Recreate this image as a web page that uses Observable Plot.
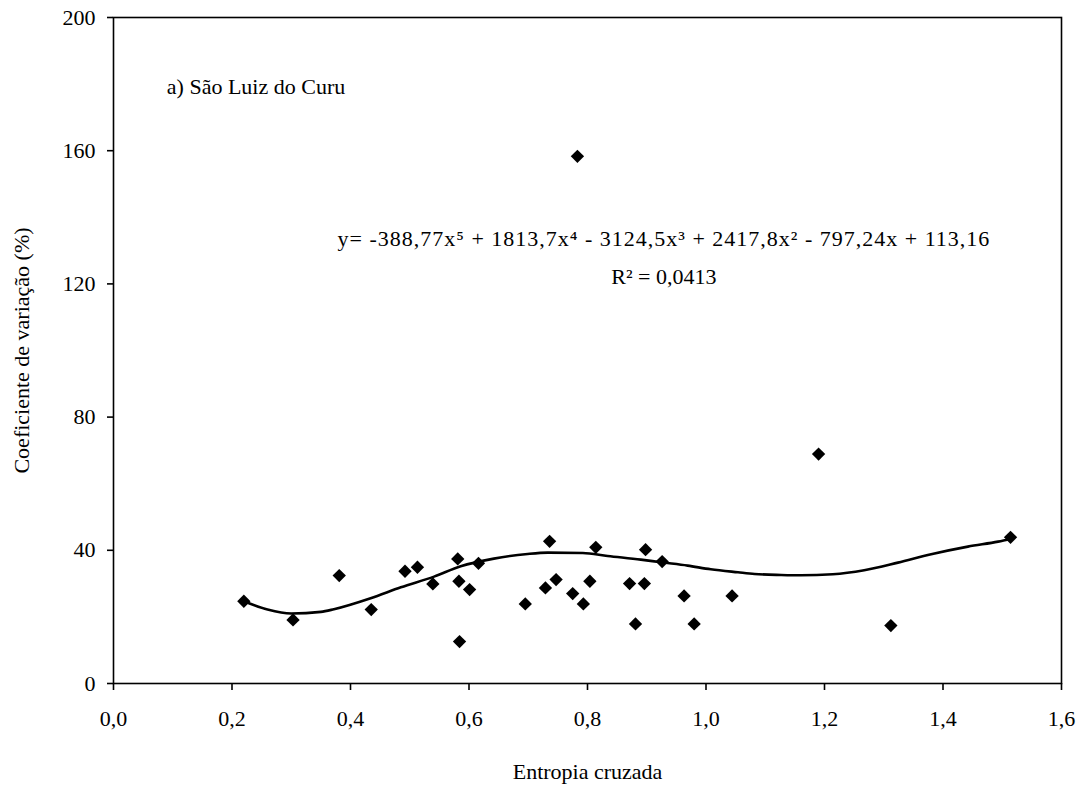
<!DOCTYPE html>
<html>
<head>
<meta charset="utf-8">
<script src="https://cdn.jsdelivr.net/npm/d3@7"></script>
<script src="https://cdn.jsdelivr.net/npm/@observablehq/plot@0.6"></script>
<style>
  html, body { margin: 0; padding: 0; background: #fff; }
  #chart svg { display: block; }
</style>
</head>
<body>
<div id="chart"></div>
<script>
// Observed points: cross entropy (x) vs coefficient of variation in % (y)
const entropia = [0.220, 0.303, 0.381, 0.435, 0.492, 0.513, 0.539, 0.581, 0.583, 0.601, 0.584, 0.616,
                  0.695, 0.736, 0.729, 0.747, 0.775, 0.793, 0.804, 0.814, 0.871, 0.881, 0.896, 0.898,
                  0.926, 0.963, 0.980, 1.044, 1.190, 1.312, 1.514, 0.783];
const coefVar  = [24.7, 19.1, 32.4, 22.2, 33.7, 34.9, 29.9, 37.4, 30.7, 28.2, 12.6, 36.1,
                  23.9, 42.7, 28.7, 31.2, 27.0, 23.9, 30.7, 40.9, 30.0, 17.9, 30.0, 40.2,
                  36.6, 26.3, 17.9, 26.3, 68.9, 17.4, 43.9, 158.3];

// Polynomial trend line
const trendX = [0.220, 0.260, 0.300, 0.350, 0.372, 0.434, 0.485, 0.541, 0.586, 0.642, 0.699, 0.733,
                0.792, 0.834, 0.890, 0.924, 0.969, 1.008, 1.054, 1.082, 1.127, 1.160, 1.214, 1.267,
                1.324, 1.380, 1.442, 1.493, 1.515];
const trendY = [24.7, 22.2, 21.0, 21.5, 22.3, 25.6, 28.9, 32.1, 35.2, 37.5, 38.9, 39.3,
                39.2, 38.3, 37.2, 36.4, 35.4, 34.3, 33.4, 32.9, 32.6, 32.5, 32.8, 34.0,
                36.3, 38.8, 41.1, 42.6, 43.4];

const xTicks = [0, 0.2, 0.4, 0.6, 0.8, 1.0, 1.2, 1.4, 1.6];
const yTicks = [0, 40, 80, 120, 160, 200];

const labelTitle = "a) São Luiz do Curu";
const labelEquation = "y= -388,77x\u2075 + 1813,7x\u2074 - 3124,5x\u00B3 + 2417,8x\u00B2 - 797,24x + 113,16";
const labelR2 = "R\u00B2 = 0,0413";
const xTitle = "Entropia cruzada";
const yTitle = "Coeficiente de variação (%)";

const points = entropia.map((x, i) => ({x, y: coefVar[i]}));
const trend = trendX.map((x, i) => ({x, y: trendY[i]}));

const fmt = d => d.toFixed(1).replace(".", ",");
const FONT = "Liberation Serif, Times New Roman, serif";
const FS = 22;

const chart = Plot.plot({
  width: 1086,
  height: 789,
  marginLeft: 113,
  marginRight: 25,
  marginTop: 17,
  marginBottom: 106,
  style: {fontFamily: FONT, fontSize: FS + "px", color: "#000", background: "#fff"},
  x: {domain: [0, 1.6], ticks: xTicks, tickFormat: fmt, label: null},
  y: {domain: [0, 200], ticks: yTicks, label: null},
  marks: [
    Plot.frame({stroke: "#000", strokeWidth: 1.6}),
    Plot.axisX({ticks: xTicks, tickFormat: fmt, tickSize: 7, tickPadding: 20, fontSize: FS, fontFamily: FONT, stroke: "#000", strokeWidth: 1.6}),
    Plot.axisY({ticks: yTicks, tickSize: 6, tickPadding: 12, fontSize: FS, fontFamily: FONT, stroke: "#000", strokeWidth: 1.6}),
    Plot.line(trend, {x: "x", y: "y", curve: "monotone-x", stroke: "#000", strokeWidth: 2.6}),
    Plot.dot(points, {x: "x", y: "y", symbol: "diamond2", r: 6, fill: "#000", stroke: "none"}),
    Plot.text([labelTitle], {x: 0.09, y: 179, text: d => d, textAnchor: "start", fontSize: FS, fontFamily: FONT, fill: "#000"}),
    Plot.text([labelEquation], {x: 0.929, y: 133.5, text: d => d, fontSize: FS, fontFamily: FONT, fill: "#000"}),
    Plot.text([labelR2], {x: 0.929, y: 122, text: d => d, fontSize: FS, fontFamily: FONT, fill: "#000"}),
    Plot.text([xTitle], {frameAnchor: "bottom", dy: 95, text: d => d, textAnchor: "middle", fontSize: FS, fontFamily: FONT, fill: "#000"}),
    Plot.text([yTitle], {frameAnchor: "left", dx: -92, rotate: -90, text: d => d, textAnchor: "middle", fontSize: FS, fontFamily: FONT, fill: "#000"})
  ]
});
// the equation in the original is set a little wider
d3.select(chart).selectAll("text").filter(function() { return this.textContent === labelEquation; })
  .attr("letter-spacing", "1px");
document.getElementById("chart").appendChild(chart);
</script>
</body>
</html>
